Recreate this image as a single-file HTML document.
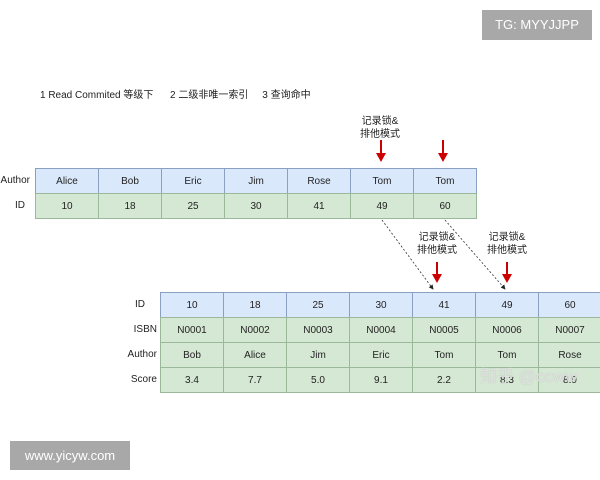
<!DOCTYPE html>
<html><head><meta charset="utf-8"><style>
body{margin:0;width:600px;height:480px;background:#fff;position:relative;overflow:hidden;font-family:"Liberation Sans","Noto Sans CJK SC",sans-serif;color:#222}
.a{position:absolute}
.t{font-size:10px}
.cell{position:absolute;box-sizing:border-box;border:1px solid #9aa89a;font-size:10px;display:flex;align-items:center;justify-content:center}
.b{background:#dae8fc;border-color:#8aa0c0}
.g{background:#d5e8d4;border-color:#9cb89a}
.lab{position:absolute;font-size:10px;text-align:right;width:40px;height:25px;line-height:25px}
.cap{position:absolute;font-size:10px;text-align:center;width:60px;line-height:13px}
</style></head><body>
<div class="a" style="left:482px;top:10px;width:110px;height:30px;background:#a8a8a8;color:#fff;font-size:13px;line-height:30px;text-align:center">TG: MYYJJPP</div>
<div class="a" style="left:10px;top:441px;width:120px;height:29px;background:#a8a8a8;color:#fff;font-size:13px;line-height:29px;text-align:center">www.yicyw.com</div>
<div class="a t" style="left:40px;top:86px;white-space:pre">1 Read Commited 等级下      2 二级非唯一索引     3 查询命中</div>
<div class="cap" style="left:350px;top:115px">记录锁&amp;<br>排他模式</div>
<div class="cap" style="left:407px;top:231px">记录锁&amp;<br>排他模式</div>
<div class="cap" style="left:477px;top:231px">记录锁&amp;<br>排他模式</div>
<div id="tables"></div>
<svg class="a" style="left:0;top:0" width="600" height="480">
<defs><marker id="m" markerWidth="6" markerHeight="6" refX="5" refY="3" orient="auto"><path d="M0,0L6,3L0,6z" fill="#222"/></marker></defs>
<g stroke="#c00" stroke-width="2" fill="#c00">
<line x1="381" y1="140" x2="381" y2="155"/><path d="M376,153L386,153L381,162z" stroke="none"/>
<line x1="443" y1="140" x2="443" y2="155"/><path d="M438,153L448,153L443,162z" stroke="none"/>
<line x1="437" y1="262" x2="437" y2="276"/><path d="M432,274L442,274L437,283z" stroke="none"/>
<line x1="507" y1="262" x2="507" y2="276"/><path d="M502,274L512,274L507,283z" stroke="none"/>
</g>
<g stroke="#333" stroke-width="0.8" stroke-dasharray="2,2" fill="none">
<line x1="382" y1="220" x2="433" y2="289" marker-end="url(#m)"/>
<line x1="445" y1="220" x2="505" y2="289" marker-end="url(#m)"/>
</g>
</svg>
<div class="a" style="left:480px;top:362px;font-size:17px;color:rgba(255,255,255,0.6);text-shadow:0 0 1px #aaa">知乎 @ccww</div>
<script>
var h='';
function row(x0,y,w,hh,vals,cls){for(var i=0;i<vals.length;i++)h+='<div class="cell '+cls+'" style="left:'+(x0+i*w)+'px;top:'+y+'px;width:'+(w+1)+'px;height:'+(hh+1)+'px">'+vals[i]+'</div>';}
row(35,168,63,25,['Alice','Bob','Eric','Jim','Rose','Tom','Tom'],'b');
row(35,193,63,25,['10','18','25','30','41','49','60'],'g');
h+='<div class="lab" style="left:-10px;top:168px">Author</div><div class="lab" style="left:-15px;top:193px">ID</div>';
row(160,292,63,25,['10','18','25','30','41','49','60'],'b');
row(160,317,63,25,['N0001','N0002','N0003','N0004','N0005','N0006','N0007'],'g');
row(160,342,63,25,['Bob','Alice','Jim','Eric','Tom','Tom','Rose'],'g');
row(160,367,63,25,['3.4','7.7','5.0','9.1','2.2','8.3','8.9'],'g');
var L=['ID','ISBN','Author','Score'];for(var i=0;i<4;i++)h+='<div class="lab" style="left:'+(i==0?105:117)+'px;top:'+(292+i*25)+'px">'+L[i]+'</div>';
document.getElementById('tables').innerHTML=h;
</script>
</body></html>
